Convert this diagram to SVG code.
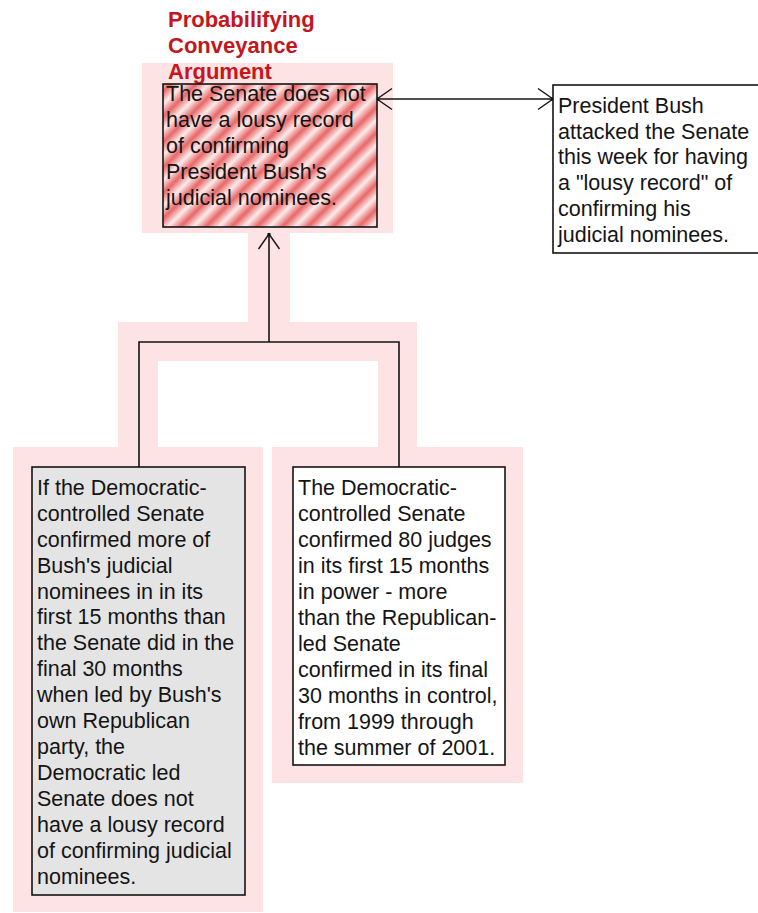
<svg xmlns="http://www.w3.org/2000/svg" width="758" height="913" viewBox="0 0 758 913">
  <style>
    .halo { fill: #fde3e3; }
    .box { stroke: #141414; stroke-width: 1.6; }
    .txt { font-family: "Liberation Sans", Arial, sans-serif; font-size: 21.5px; fill: #141414; }
    .title { font-family: "Liberation Sans", Arial, sans-serif; font-size: 22px; font-weight: bold; fill: #c4161c; }
    .link { fill: none; stroke: #141414; stroke-width: 1.6; }
  </style>
  <defs>
    <linearGradient id="stripeGrad" x1="0" y1="0" x2="1" y2="0">
      <stop offset="0" stop-color="#e86666"/>
      <stop offset="0.5" stop-color="#fcecec"/>
      <stop offset="1" stop-color="#e86666"/>
    </linearGradient>
    <pattern id="stripes" patternUnits="userSpaceOnUse" width="18" height="18" patternTransform="rotate(45)">
      <rect width="18" height="18" fill="url(#stripeGrad)"/>
    </pattern>
    <!-- open chevron arrowhead with a small square at the tip -->
    <marker id="open" markerUnits="userSpaceOnUse" markerWidth="18" markerHeight="26" viewBox="0 0 18 26" refX="16" refY="12" orient="auto-start-reverse">
      <path d="M1,1.5 L16,12 L1,22.5" fill="none" stroke="#141414" stroke-width="1.4"/>
      <rect x="14" y="10.5" width="3" height="3" fill="#141414"/>
    </marker>
  </defs>

  <rect width="758" height="913" fill="#ffffff"/>

  <!-- argument highlight areas -->
  <g id="halos" class="halo">
    <rect x="142" y="63" width="251" height="170"/>
    <rect x="248" y="233" width="42" height="89"/>
    <rect x="118" y="322" width="299" height="39"/>
    <rect x="118" y="361" width="40" height="86"/>
    <rect x="378" y="361" width="39" height="86"/>
    <rect x="13" y="447" width="250" height="465"/>
    <rect x="272" y="447" width="251" height="336"/>
  </g>

  <text class="title" x="168">
    <tspan x="168" y="27">Probabilifying</tspan>
    <tspan x="168" y="53">Conveyance</tspan>
    <tspan x="168" y="79">Argument</tspan>
  </text>

  <g id="connectors">
    <path class="link" d="M377,99 L553,99" marker-start="url(#open)" marker-end="url(#open)"/>
    <path class="link" d="M269,342 L269,234" marker-end="url(#open)"/>
    <path class="link" d="M139,467 L139,342 L399,342 L399,467"/>
  </g>

  <g id="claim">
    <rect class="box" x="163" y="84" width="214" height="143" fill="url(#stripes)"/>
    <text class="txt">
      <tspan x="166" y="101">The Senate does not</tspan>
      <tspan x="166" y="127">have a lousy record</tspan>
      <tspan x="166" y="153">of confirming</tspan>
      <tspan x="166" y="179">President Bush's</tspan>
      <tspan x="166" y="205">judicial nominees.</tspan>
    </text>
  </g>

  <g id="opposing">
    <rect class="box" x="553" y="85" width="215" height="168" fill="#ffffff"/>
    <text class="txt">
      <tspan x="558" y="113">President Bush</tspan>
      <tspan x="558" y="139">attacked the Senate</tspan>
      <tspan x="558" y="164">this week for having</tspan>
      <tspan x="558" y="190">a "lousy record" of</tspan>
      <tspan x="558" y="216">confirming his</tspan>
      <tspan x="558" y="242">judicial nominees.</tspan>
    </text>
  </g>

  <g id="premise-left">
    <rect class="box" x="32" y="467" width="213" height="428" fill="#e4e4e4"/>
    <text class="txt">
      <tspan x="37" y="495">If the Democratic-</tspan>
      <tspan x="37" y="521">controlled Senate</tspan>
      <tspan x="37" y="547">confirmed more of</tspan>
      <tspan x="37" y="573">Bush's judicial</tspan>
      <tspan x="37" y="599">nominees in in its</tspan>
      <tspan x="37" y="624">first 15 months than</tspan>
      <tspan x="37" y="650">the Senate did in the</tspan>
      <tspan x="37" y="676">final 30 months</tspan>
      <tspan x="37" y="702">when led by Bush's</tspan>
      <tspan x="37" y="728">own Republican</tspan>
      <tspan x="37" y="754">party, the</tspan>
      <tspan x="37" y="780">Democratic led</tspan>
      <tspan x="37" y="806">Senate does not</tspan>
      <tspan x="37" y="832">have a lousy record</tspan>
      <tspan x="37" y="858">of confirming judicial</tspan>
      <tspan x="37" y="884">nominees.</tspan>
    </text>
  </g>

  <g id="premise-right">
    <rect class="box" x="293" y="467" width="212" height="298" fill="#ffffff"/>
    <text class="txt">
      <tspan x="298" y="495">The Democratic-</tspan>
      <tspan x="298" y="521">controlled Senate</tspan>
      <tspan x="298" y="547">confirmed 80 judges</tspan>
      <tspan x="298" y="573">in its first 15 months</tspan>
      <tspan x="298" y="599">in power - more</tspan>
      <tspan x="298" y="625">than the Republican-</tspan>
      <tspan x="298" y="651">led Senate</tspan>
      <tspan x="298" y="677">confirmed in its final</tspan>
      <tspan x="298" y="703">30 months in control,</tspan>
      <tspan x="298" y="729">from 1999 through</tspan>
      <tspan x="298" y="755">the summer of 2001.</tspan>
    </text>
  </g>
</svg>
